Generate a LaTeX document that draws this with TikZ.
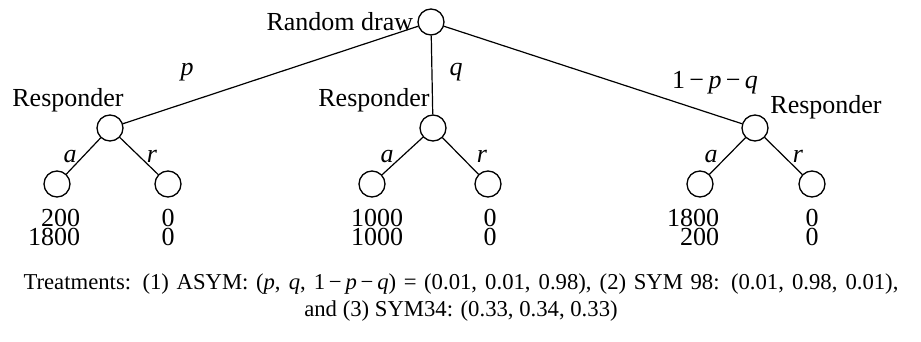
\documentclass[tikz,border=0pt]{standalone}
\usepackage{fontspec}
\setmainfont{Liberation Serif}
\usetikzlibrary{positioning}
\newcommand{\minus}{\,\char"2212\,}
\newcommand{\edgeLabel}[3]{%%
  \node[labelStyle] at (#1,#2) {#3};
}
\newcommand{\payoffPair}[4]{%%
  \node[payStyle] at (#1,#2) {#3\\#4};
}

\begin{document}
\begin{tikzpicture}[x=1pt,y=-1pt,%%
  nodeStyle/.style={draw,circle,inner sep=0pt,minimum size=26pt,line width=1.3pt},%%
  lineStyle/.style={-,line width=1.2pt},%%
  labelStyle/.style={inner sep=0pt,font=\fontsize{26}{28}\selectfont\itshape},%%
  textStyle/.style={inner sep=0pt,font=\fontsize{26}{28}\selectfont},%%
  payStyle/.style={inner sep=0pt,align=right,font=\fontsize{26}{19}\selectfont}%%
]
%%
\useasboundingbox (0,0) rectangle (921,342);
%%
%% The chance move.
\node[nodeStyle] (randomDraw) at (431,22) {};
\node[textStyle,anchor=east] at ([xshift=-4pt]randomDraw.west) {Random draw};
%%
%% The three responders.
\node[nodeStyle] (responderOne) at (110,128) {};
\node[nodeStyle] (responderTwo) at (433,128) {};
\node[nodeStyle] (responderThree) at (755,128) {};
\node[textStyle] at (68,100) {Responder};
\node[textStyle] at (374,100) {Responder};
\node[textStyle] at (826,107) {Responder};
%%
%% The end points.
\node[nodeStyle] (acceptOne) at (57,184) {};
\node[nodeStyle] (rejectOne) at (168,184) {};
\node[nodeStyle] (acceptTwo) at (372,184) {};
\node[nodeStyle] (rejectTwo) at (488,184) {};
\node[nodeStyle] (acceptThree) at (700,184) {};
\node[nodeStyle] (rejectThree) at (812,184) {};
%%
\draw[lineStyle] (randomDraw) -- (responderOne);
\draw[lineStyle] (randomDraw) -- (responderTwo);
\draw[lineStyle] (randomDraw) -- (responderThree);
\draw[lineStyle] (responderOne) -- (acceptOne);
\draw[lineStyle] (responderOne) -- (rejectOne);
\draw[lineStyle] (responderTwo) -- (acceptTwo);
\draw[lineStyle] (responderTwo) -- (rejectTwo);
\draw[lineStyle] (responderThree) -- (acceptThree);
\draw[lineStyle] (responderThree) -- (rejectThree);
%%
%% Probabilities and choices.
\edgeLabel{187}{72}{p}
\edgeLabel{456}{72}{q}
\node[textStyle] at (715,83) {1\minus\textit{p}\minus\textit{q}};
\edgeLabel{70}{157}{a}
\edgeLabel{152}{156}{r}
\edgeLabel{387}{157}{a}
\edgeLabel{482}{156}{r}
\edgeLabel{711}{157}{a}
\edgeLabel{798}{156}{r}
%%
%% Payoffs.
\payoffPair{54}{227}{200}{1800}
\payoffPair{168}{227}{0}{0}
\payoffPair{377}{227}{1000}{1000}
\payoffPair{490}{227}{0}{0}
\payoffPair{693}{227}{1800}{200}
\payoffPair{812}{227}{0}{0}
%%
%% The treatments.
\node[inner sep=0pt,align=center,font=\fontsize{22.7}{27}\selectfont] (caption) at (461,298)
  {\makebox[875pt][s]{Treatments: (1) ASYM: (\textit{p}, \textit{q}, 1\minus\textit{p}\minus\textit{q}) = (0.01, 0.01, 0.98), (2) SYM 98: (0.01, 0.98, 0.01),}\\
   and (3) SYM34: (0.33, 0.34, 0.33)};
\end{tikzpicture}
\end{document}
